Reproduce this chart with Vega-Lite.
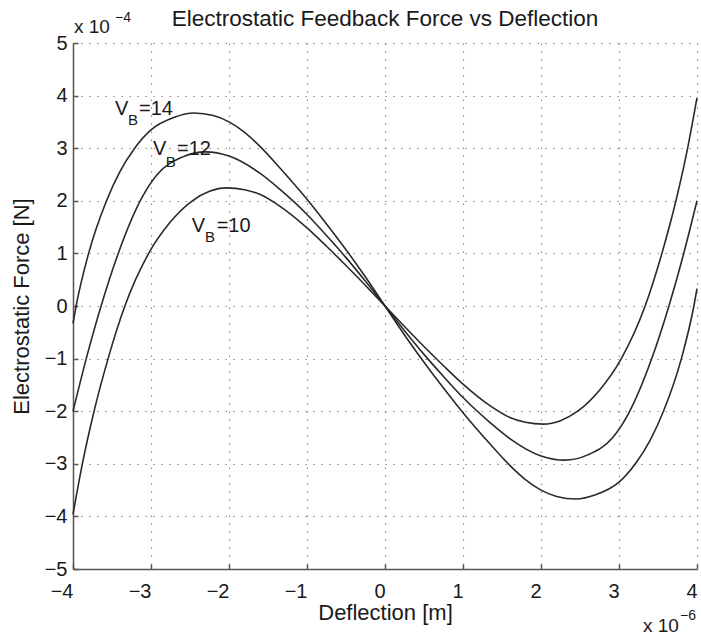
{
  "$schema": "https://vega.github.io/schema/vega-lite/v6.json",
  "width": 624,
  "height": 526,
  "autosize": {"type": "none"},
  "padding": {"left": 73, "top": 43, "right": 4, "bottom": 67},
  "background": "white",
  "config": {"view": {"stroke": null}, "font": "Liberation Sans"},
  "datasets": {
    "curves": [
      {"series": "VB14", "x": -4.0, "y": -0.33},
      {"series": "VB14", "x": -3.96, "y": 0.0},
      {"series": "VB14", "x": -3.8, "y": 1.0},
      {"series": "VB14", "x": -3.57, "y": 2.0},
      {"series": "VB14", "x": -3.4, "y": 2.55},
      {"series": "VB14", "x": -3.21, "y": 3.0},
      {"series": "VB14", "x": -3.0, "y": 3.35},
      {"series": "VB14", "x": -2.7, "y": 3.59},
      {"series": "VB14", "x": -2.45, "y": 3.67},
      {"series": "VB14", "x": -2.2, "y": 3.62},
      {"series": "VB14", "x": -2.0, "y": 3.5},
      {"series": "VB14", "x": -1.8, "y": 3.3},
      {"series": "VB14", "x": -1.6, "y": 3.03},
      {"series": "VB14", "x": -1.35, "y": 2.63},
      {"series": "VB14", "x": -1.0, "y": 2.03},
      {"series": "VB14", "x": -0.75, "y": 1.56},
      {"series": "VB14", "x": -0.5, "y": 1.07},
      {"series": "VB14", "x": -0.25, "y": 0.55},
      {"series": "VB14", "x": 0.0, "y": 0.0},
      {"series": "VB14", "x": 0.25, "y": -0.55},
      {"series": "VB14", "x": 0.5, "y": -1.07},
      {"series": "VB14", "x": 0.75, "y": -1.56},
      {"series": "VB14", "x": 1.0, "y": -2.03},
      {"series": "VB14", "x": 1.35, "y": -2.63},
      {"series": "VB14", "x": 1.6, "y": -3.03},
      {"series": "VB14", "x": 1.8, "y": -3.3},
      {"series": "VB14", "x": 2.0, "y": -3.5},
      {"series": "VB14", "x": 2.2, "y": -3.62},
      {"series": "VB14", "x": 2.45, "y": -3.67},
      {"series": "VB14", "x": 2.7, "y": -3.59},
      {"series": "VB14", "x": 3.0, "y": -3.35},
      {"series": "VB14", "x": 3.21, "y": -3.0},
      {"series": "VB14", "x": 3.4, "y": -2.55},
      {"series": "VB14", "x": 3.57, "y": -2.0},
      {"series": "VB14", "x": 3.8, "y": -1.0},
      {"series": "VB14", "x": 3.96, "y": 0.0},
      {"series": "VB14", "x": 4.0, "y": 0.33},
      {"series": "VB12", "x": -4.0, "y": -2.0},
      {"series": "VB12", "x": -3.83, "y": -1.0},
      {"series": "VB12", "x": -3.64, "y": 0.0},
      {"series": "VB12", "x": -3.42, "y": 1.0},
      {"series": "VB12", "x": -3.12, "y": 2.05},
      {"series": "VB12", "x": -2.92, "y": 2.5},
      {"series": "VB12", "x": -2.6, "y": 2.83},
      {"series": "VB12", "x": -2.3, "y": 2.93},
      {"series": "VB12", "x": -2.0, "y": 2.85},
      {"series": "VB12", "x": -1.6, "y": 2.52},
      {"series": "VB12", "x": -1.35, "y": 2.22},
      {"series": "VB12", "x": -1.0, "y": 1.74},
      {"series": "VB12", "x": -0.75, "y": 1.34},
      {"series": "VB12", "x": -0.5, "y": 0.92},
      {"series": "VB12", "x": -0.25, "y": 0.47},
      {"series": "VB12", "x": 0.0, "y": 0.0},
      {"series": "VB12", "x": 0.25, "y": -0.47},
      {"series": "VB12", "x": 0.5, "y": -0.92},
      {"series": "VB12", "x": 0.75, "y": -1.34},
      {"series": "VB12", "x": 1.0, "y": -1.74},
      {"series": "VB12", "x": 1.35, "y": -2.22},
      {"series": "VB12", "x": 1.6, "y": -2.52},
      {"series": "VB12", "x": 2.0, "y": -2.85},
      {"series": "VB12", "x": 2.3, "y": -2.93},
      {"series": "VB12", "x": 2.6, "y": -2.83},
      {"series": "VB12", "x": 2.92, "y": -2.5},
      {"series": "VB12", "x": 3.12, "y": -2.05},
      {"series": "VB12", "x": 3.42, "y": -1.0},
      {"series": "VB12", "x": 3.64, "y": 0.0},
      {"series": "VB12", "x": 3.83, "y": 1.0},
      {"series": "VB12", "x": 4.0, "y": 2.0},
      {"series": "VB10", "x": -4.0, "y": -3.96},
      {"series": "VB10", "x": -3.88, "y": -3.0},
      {"series": "VB10", "x": -3.73, "y": -2.0},
      {"series": "VB10", "x": -3.55, "y": -1.0},
      {"series": "VB10", "x": -3.335, "y": 0.0},
      {"series": "VB10", "x": -3.03, "y": 1.0},
      {"series": "VB10", "x": -2.75, "y": 1.6},
      {"series": "VB10", "x": -2.47, "y": 2.0},
      {"series": "VB10", "x": -2.25, "y": 2.18},
      {"series": "VB10", "x": -2.03, "y": 2.245},
      {"series": "VB10", "x": -1.8, "y": 2.21},
      {"series": "VB10", "x": -1.6, "y": 2.12},
      {"series": "VB10", "x": -1.35, "y": 1.9},
      {"series": "VB10", "x": -1.0, "y": 1.485},
      {"series": "VB10", "x": -0.75, "y": 1.135},
      {"series": "VB10", "x": -0.5, "y": 0.77},
      {"series": "VB10", "x": -0.25, "y": 0.39},
      {"series": "VB10", "x": 0.0, "y": 0.0},
      {"series": "VB10", "x": 0.25, "y": -0.39},
      {"series": "VB10", "x": 0.5, "y": -0.77},
      {"series": "VB10", "x": 0.75, "y": -1.135},
      {"series": "VB10", "x": 1.0, "y": -1.485},
      {"series": "VB10", "x": 1.35, "y": -1.9},
      {"series": "VB10", "x": 1.6, "y": -2.12},
      {"series": "VB10", "x": 1.8, "y": -2.21},
      {"series": "VB10", "x": 2.03, "y": -2.245},
      {"series": "VB10", "x": 2.25, "y": -2.18},
      {"series": "VB10", "x": 2.47, "y": -2.0},
      {"series": "VB10", "x": 2.75, "y": -1.6},
      {"series": "VB10", "x": 3.03, "y": -1.0},
      {"series": "VB10", "x": 3.335, "y": 0.0},
      {"series": "VB10", "x": 3.55, "y": 1.0},
      {"series": "VB10", "x": 3.73, "y": 2.0},
      {"series": "VB10", "x": 3.88, "y": 3.0},
      {"series": "VB10", "x": 4.0, "y": 3.96}
    ],
    "titleText": [
      {"x": 0, "y": 5.323, "text": "Electrostatic Feedback Force vs Deflection"}
    ],
    "labelMain": [
      {"x": -3.46, "y": 3.631, "text": "V"},
      {"x": -3.154, "y": 3.631, "text": "=14"},
      {"x": -2.974, "y": 2.871, "text": "V"},
      {"x": -2.667, "y": 2.871, "text": "=12"},
      {"x": -2.478, "y": 1.413, "text": "V"},
      {"x": -2.158, "y": 1.413, "text": "=10"}
    ],
    "labelSub": [
      {"x": -3.295, "y": 3.441, "text": "B"},
      {"x": -2.81, "y": 2.648, "text": "B"},
      {"x": -2.308, "y": 1.222, "text": "B"}
    ],
    "expBase": [
      {"x": -3.987, "y": 5.184, "text": "x 10"},
      {"x": 3.308, "y": -6.192, "text": "x 10"}
    ],
    "expPow": [
      {"x": -3.46, "y": 5.405, "text": "\u22124"},
      {"x": 3.782, "y": -5.97, "text": "\u22126"}
    ]
  },
  "layer": [
    {
      "data": {"name": "curves"},
      "mark": {"type": "line", "color": "#2a2a2a", "strokeWidth": 1.6, "interpolate": "monotone"},
      "encoding": {
        "x": {
          "field": "x", "type": "quantitative",
          "scale": {"domain": [-4, 4], "nice": false, "zero": false},
          "axis": {
            "title": "Deflection [m]",
            "values": [-4, -3, -2, -1, 0, 1, 2, 3, 4],
            "format": "d",
            "grid": true, "gridColor": "#8c8c8c", "gridDash": [1.5, 6.5], "gridWidth": 1.2,
            "domainColor": "#555555", "domainWidth": 1.5,
            "tickColor": "#555555", "tickSize": -5, "tickWidth": 1.5,
            "labelFont": "Liberation Sans", "labelFontSize": 20, "labelColor": "#1a1a1a",
            "labelAlign": "right", "labelDx": 6, "labelPadding": 17,
            "labelFlush": false, "labelOverlap": false,
            "titleFont": "Liberation Sans", "titleFontSize": 22, "titleFontWeight": "normal", "titleColor": "#1a1a1a",
            "titleX": 312, "titleY": 50, "titleAlign": "center", "titleBaseline": "alphabetic"
          }
        },
        "y": {
          "field": "y", "type": "quantitative",
          "scale": {"domain": [-5, 5], "nice": false, "zero": false},
          "axis": {
            "title": "Electrostatic Force [N]",
            "values": [-5, -4, -3, -2, -1, 0, 1, 2, 3, 4, 5],
            "format": "d",
            "grid": true, "gridColor": "#8c8c8c", "gridDash": [1.5, 6.5], "gridWidth": 1.2,
            "domainColor": "#555555", "domainWidth": 1.5,
            "tickColor": "#555555", "tickSize": -5, "tickWidth": 1.5,
            "labelFont": "Liberation Sans", "labelFontSize": 20, "labelColor": "#1a1a1a",
            "labelPadding": 11, "labelFlush": false, "labelOverlap": false,
            "titleFont": "Liberation Sans", "titleFontSize": 22, "titleFontWeight": "normal", "titleColor": "#1a1a1a",
            "titleAngle": 270, "titleX": -45, "titleY": 263, "titleAlign": "center", "titleBaseline": "alphabetic"
          }
        },
        "detail": {"field": "series", "type": "nominal"}
      }
    },
    {
      "data": {"name": "titleText"},
      "mark": {"type": "text", "align": "center", "baseline": "alphabetic", "fontSize": 22.5, "font": "Liberation Sans", "color": "#1a1a1a"},
      "encoding": {
        "x": {"field": "x", "type": "quantitative", "scale": {"domain": [-4, 4], "nice": false, "zero": false}},
        "y": {"field": "y", "type": "quantitative", "scale": {"domain": [-5, 5], "nice": false, "zero": false}},
        "text": {"field": "text"}
      }
    },
    {
      "data": {"name": "labelMain"},
      "mark": {"type": "text", "align": "left", "baseline": "alphabetic", "fontSize": 20, "font": "Liberation Sans", "color": "#1a1a1a"},
      "encoding": {
        "x": {"field": "x", "type": "quantitative", "scale": {"domain": [-4, 4], "nice": false, "zero": false}},
        "y": {"field": "y", "type": "quantitative", "scale": {"domain": [-5, 5], "nice": false, "zero": false}},
        "text": {"field": "text"}
      }
    },
    {
      "data": {"name": "labelSub"},
      "mark": {"type": "text", "align": "left", "baseline": "alphabetic", "fontSize": 15, "font": "Liberation Sans", "color": "#1a1a1a"},
      "encoding": {
        "x": {"field": "x", "type": "quantitative", "scale": {"domain": [-4, 4], "nice": false, "zero": false}},
        "y": {"field": "y", "type": "quantitative", "scale": {"domain": [-5, 5], "nice": false, "zero": false}},
        "text": {"field": "text"}
      }
    },
    {
      "data": {"name": "expBase"},
      "mark": {"type": "text", "align": "left", "baseline": "alphabetic", "fontSize": 19, "font": "Liberation Sans", "color": "#1a1a1a"},
      "encoding": {
        "x": {"field": "x", "type": "quantitative", "scale": {"domain": [-4, 4], "nice": false, "zero": false}},
        "y": {"field": "y", "type": "quantitative", "scale": {"domain": [-5, 5], "nice": false, "zero": false}},
        "text": {"field": "text"}
      }
    },
    {
      "data": {"name": "expPow"},
      "mark": {"type": "text", "align": "left", "baseline": "alphabetic", "fontSize": 14, "font": "Liberation Sans", "color": "#1a1a1a"},
      "encoding": {
        "x": {"field": "x", "type": "quantitative", "scale": {"domain": [-4, 4], "nice": false, "zero": false}},
        "y": {"field": "y", "type": "quantitative", "scale": {"domain": [-5, 5], "nice": false, "zero": false}},
        "text": {"field": "text"}
      }
    }
  ]
}
